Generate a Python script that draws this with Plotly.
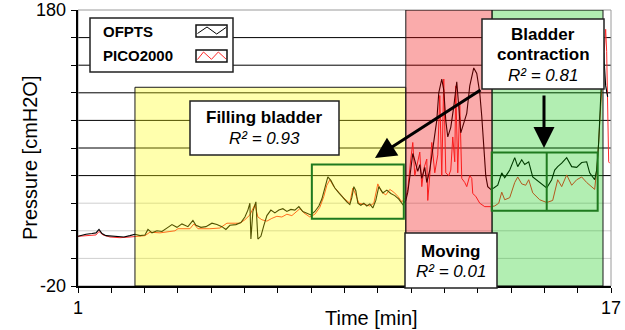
import plotly.graph_objects as go

# ---------------- data ----------------
ofpts_time = [1.00, 1.24, 1.42, 1.54, 1.63, 1.72, 1.84, 2.02, 2.20, 2.38, 2.56, 2.71, 2.86, 3.01, 3.10,
              3.22, 3.37, 3.52, 3.70, 3.82, 3.97, 4.12, 4.30, 4.45, 4.54, 4.69, 4.84, 5.02, 5.17, 5.32,
              5.44, 5.56, 5.74, 5.89, 6.01, 6.10, 6.16, 6.19, 6.25, 6.34, 6.40, 6.49, 6.58, 6.67, 6.79,
              6.91, 7.03, 7.15, 7.27, 7.39, 7.51, 7.63, 7.75, 7.87, 7.99, 8.11, 8.23, 8.32, 8.41, 8.50,
              8.59, 8.71, 8.83, 8.95, 9.07, 9.16, 9.22, 9.28, 9.34, 9.40, 9.49, 9.58, 9.67, 9.76, 9.85,
              9.94, 10.03, 10.15, 10.27, 10.39, 10.51, 10.63, 10.75, 10.84, 10.90, 10.96, 11.05, 11.11,
              11.20, 11.26, 11.32, 11.41, 11.47, 11.56, 11.62, 11.71, 11.77, 11.83, 11.92, 11.98, 12.04,
              12.10, 12.19, 12.28, 12.37, 12.43, 12.49, 12.58, 12.67, 12.76, 12.88, 12.97, 13.06, 13.12,
              13.18, 13.24, 13.30, 13.39, 13.48, 13.60, 13.72, 13.81, 13.96, 14.11, 14.20, 14.32, 14.41,
              14.53, 14.65, 14.86, 15.07, 15.22, 15.31, 15.40, 15.52, 15.67, 15.82, 15.97, 16.12, 16.27,
              16.36, 16.51, 16.57, 16.63, 16.72, 16.78, 16.84, 16.90]
ofpts_pressure = [16, 17.5, 18, 18.5, 21, 18, 16.5, 16, 15.5, 15.5, 16.5, 17.5, 16.5, 17, 21,
                  18.5, 20, 19.5, 22.5, 24.5, 22.5, 25, 23, 27.5, 24, 22.5, 23, 25.5, 24.5, 23,
                  21, 24, 24.5, 26, 30, 35, 40, 14, 34, 41, 14, 16, 24, 31, 35,
                  33, 35, 36, 34, 35.5, 35, 37.5, 34, 33, 31.5, 34, 38, 43, 52, 59,
                  56.5, 51, 47.5, 44, 41, 39, 44, 52, 49, 40, 38.5, 40, 38, 39.5, 36.5,
                  42, 52, 47.5, 49.5, 47, 45.5, 43, 39, 42, 48, 59, 76, 71,
                  63, 68, 58, 66, 55, 64, 75, 88, 100, 120, 130, 122, 100,
                  88, 95, 110, 128, 110, 91, 98, 105, 125, 138, 134, 120, 103,
                  80, 60, 52, 50, 51, 53, 62, 58.5, 64, 73, 66.5, 71.5, 68,
                  70, 59, 55, 51, 57, 64, 66.5, 69, 73, 66.5, 66, 69.5, 70,
                  62, 57, 64, 84, 132, 149, 125, 117]

pico_time = [1.00, 1.36, 1.54, 1.63, 1.75, 1.96, 2.26, 2.56, 2.71, 3.01, 3.16, 3.46, 3.76, 3.91, 4.00,
             4.36, 4.48, 4.60, 4.96, 5.26, 5.47, 5.86, 6.01, 6.16, 6.31, 6.40, 6.52, 6.67, 6.82, 6.97,
             7.12, 7.27, 7.42, 7.57, 7.66, 7.78, 7.96, 8.11, 8.26, 8.38, 8.47, 8.56, 8.68, 8.86, 9.01,
             9.16, 9.25, 9.34, 9.43, 9.61, 9.76, 9.88, 10.00, 10.12, 10.24, 10.36, 10.48, 10.60, 10.72,
             10.84, 10.90, 10.99, 11.05, 11.11, 11.17, 11.26, 11.32, 11.38, 11.47, 11.50, 11.56, 11.62,
             11.71, 11.80, 11.86, 11.92, 11.98, 12.04, 12.13, 12.19, 12.25, 12.31, 12.34, 12.40, 12.46,
             12.52, 12.61, 12.67, 12.76, 12.82, 12.85, 12.94, 13.06, 13.21, 13.39, 13.51, 13.63, 13.72,
             13.81, 13.96, 14.11, 14.20, 14.32, 14.44, 14.53, 14.65, 14.86, 15.07, 15.25, 15.40, 15.52,
             15.67, 15.82, 15.97, 16.12, 16.27, 16.51, 16.60, 16.69, 16.75, 16.81, 16.84, 16.87, 16.90,
             16.93, 16.96]
pico_pressure = [16, 16.5, 17, 19.5, 17, 15.5, 15, 15.5, 16, 16.5, 19, 18.5, 19.5, 20, 21.5,
                 21.5, 25, 21.5, 21.5, 22, 25.5, 25.5, 28, 31.5, 39, 30, 28, 27, 29, 30.5,
                 30, 32, 31, 34, 36, 33, 30, 32, 37, 45, 53, 57, 52, 47, 43,
                 40, 51, 46, 40, 39, 38, 40, 54, 48, 46, 50, 48, 45, 41,
                 44, 50, 72, 84, 60, 66, 77, 52, 65, 72, 42, 60, 84,
                 62, 75, 118, 60, 130, 62, 60, 64, 88, 70, 125, 62, 113,
                 58, 55, 52, 60, 58, 47, 45, 40, 37.5, 37.5, 38, 40, 48,
                 42.5, 44, 55, 59, 54, 53, 57, 47.5, 42.5, 40.5, 42, 57, 52,
                 60.5, 53, 57, 59, 55, 50, 72, 110, 132, 160, 166, 150, 120,
                 70, 69]

x_tick_vals = list(range(1, 18))
x_label_vals = [1, 17]
y_tick_vals = list(range(-20, 181, 20))
y_label_vals = [-20, 180]
gray_grid_levels = [0, 20, 40]
black_grid_levels = [60, 80, 100, 120, 140, 160]

phase_names = ["Filling bladder", "Moving", "Bladder contraction"]
phase_r2 = ["0.93", "0.01", "0.81"]
phase_start = [2.71, 10.84, 13.43]
phase_end = [10.84, 13.43, 16.76]
phase_top = [124, 180, 180]

filling_window_t = [8.02, 10.78]
filling_window_p = [28.7, 68]
contraction_window_t = [13.42, 15.07, 16.6]
contraction_window_p = [34.5, 76.7]

# ---------------- helpers (pixel -> paper) ----------------
L, T, PW, PH = 78, 10, 533, 276


def px(x):
    return (x - L) / PW


def py(y):
    return (T + PH - y) / PH


FONT = "Liberation Sans, Arial, Helvetica, sans-serif"

fig = go.Figure()
fig.add_trace(go.Scatter(x=pico_time, y=pico_pressure, mode="lines", name="PICO2000",
                         line=dict(color="#ff2a2a", width=1), showlegend=False))
fig.add_trace(go.Scatter(x=ofpts_time, y=ofpts_pressure, mode="lines", name="OFPTS",
                         line=dict(color="#000000", width=1.1), showlegend=False))

shapes = []
# gridlines
for v in gray_grid_levels:
    shapes.append(dict(type="line", xref="paper", yref="y", x0=0, x1=1, y0=v, y1=v,
                       line=dict(color="#cfcfcf", width=1), layer="below"))
for v in black_grid_levels:
    shapes.append(dict(type="line", xref="paper", yref="y", x0=0, x1=1, y0=v, y1=v,
                       line=dict(color="#000000", width=1), layer="below"))
# frame
shapes.append(dict(type="rect", xref="paper", yref="paper", x0=0, x1=1, y0=0, y1=1,
                   line=dict(color="#9a9a9a", width=1), layer="below"))

# phase regions (semi-transparent, above data)
phase_fill = ["rgba(255,255,0,0.32)", "rgba(240,0,0,0.33)", "rgba(0,200,0,0.30)"]
for s, e, top, fc in zip(phase_start, phase_end, phase_top, phase_fill):
    shapes.append(dict(type="rect", xref="x", yref="y", x0=s, x1=e, y0=-20, y1=top,
                       fillcolor=fc, line=dict(color="#1a1a1a", width=1), layer="above"))

# focus windows
GREEN = "#1f7a1f"
shapes.append(dict(type="rect", xref="x", yref="y", x0=filling_window_t[0], x1=filling_window_t[1],
                   y0=filling_window_p[0], y1=filling_window_p[1],
                   line=dict(color=GREEN, width=2), layer="above"))
shapes.append(dict(type="rect", xref="x", yref="y", x0=contraction_window_t[0], x1=contraction_window_t[2],
                   y0=contraction_window_p[0], y1=contraction_window_p[1],
                   line=dict(color=GREEN, width=2), layer="above"))
shapes.append(dict(type="line", xref="x", yref="y", x0=contraction_window_t[1], x1=contraction_window_t[1],
                   y0=contraction_window_p[0], y1=contraction_window_p[1],
                   line=dict(color=GREEN, width=2), layer="above"))

# label boxes
label_boxes = [(190, 101, 339, 155), (405, 233, 497, 288), (482, 19, 604, 89)]
for x0, y0, x1, y1 in label_boxes:
    shapes.append(dict(type="rect", xref="paper", yref="paper", x0=px(x0), x1=px(x1), y0=py(y1), y1=py(y0),
                       fillcolor="white", line=dict(color="#222222", width=1.5), layer="above"))

# custom legend
shapes.append(dict(type="rect", xref="paper", yref="paper", x0=px(90), x1=px(233), y0=py(72), y1=py(18),
                   fillcolor="white", line=dict(color="#222222", width=1.5), layer="above"))
for yt, yb in [(25, 37), (50, 62)]:
    shapes.append(dict(type="rect", xref="paper", yref="paper", x0=px(196), x1=px(227), y0=py(yb), y1=py(yt),
                       fillcolor="white", line=dict(color="#111111", width=1.5), layer="above"))


def zig(points):
    return "M " + " L ".join(f"{px(a):.5f},{py(b):.5f}" for a, b in points)


shapes.append(dict(type="path", xref="paper", yref="paper",
                   path=zig([(197.5, 33.5), (207, 27), (216.7, 34), (226, 27.5)]),
                   line=dict(color="#000000", width=1), layer="above"))
shapes.append(dict(type="path", xref="paper", yref="paper",
                   path=zig([(197.5, 59.5), (203.5, 52), (211.5, 59.3), (218.3, 52), (226, 59)]),
                   line=dict(color="#ff2a2a", width=1), layer="above"))

annotations = []


def text(x, y, s, size=17, xanchor="center"):
    annotations.append(dict(xref="paper", yref="paper", x=px(x), y=py(y), text=s, showarrow=False,
                            xanchor=xanchor, yanchor="middle",
                            font=dict(family=FONT, size=size, color="#000000")))


# legend text
text(101, 31, "<b>OFPTS</b>", 15, "left")
text(101, 56, "<b>PICO2000</b>", 15, "left")

# labels
text(264.5, 118, f"<b>{phase_names[0]}</b>")
text(264.5, 138, f"<i>R² = {phase_r2[0]}</i>")
text(451, 251, f"<b>{phase_names[1]}</b>")
text(451, 271, f"<i>R² = {phase_r2[1]}</i>")
text(543, 35, "<b>Bladder</b>")
text(543, 55, "<b>contraction</b>")
text(543, 75, f"<i>R² = {phase_r2[2]}</i>")

# end tick labels (placed on the axes' own scales)
for xv in x_label_vals:
    annotations.append(dict(xref="x", yref="paper", x=xv, y=py(308), text=str(xv), showarrow=False,
                            xanchor="center", yanchor="middle",
                            font=dict(family=FONT, size=18, color="#000000")))
for yv in y_label_vals:
    annotations.append(dict(xref="paper", yref="y", x=px(68), y=yv, text=str(yv), showarrow=False,
                            xanchor="right", yanchor="middle",
                            font=dict(family=FONT, size=18, color="#000000")))

# arrows
annotations.append(dict(xref="paper", yref="paper", x=px(375), y=py(158), ax=107, ay=-69,
                        axref="pixel", ayref="pixel", text="", showarrow=True,
                        arrowhead=2, arrowsize=1.4, arrowwidth=3, arrowcolor="#000000"))
annotations.append(dict(xref="paper", yref="paper", x=px(544), y=py(148), ax=0, ay=-54,
                        axref="pixel", ayref="pixel", text="", showarrow=True,
                        arrowhead=2, arrowsize=1.4, arrowwidth=3, arrowcolor="#000000"))

# axis titles
annotations.append(dict(xref="paper", yref="paper", x=px(30), y=py(158), text="Pressure [cmH2O]",
                        textangle=-90, showarrow=False, xanchor="center", yanchor="middle",
                        font=dict(family=FONT, size=20, color="#000000")))
annotations.append(dict(xref="paper", yref="paper", x=px(371), y=py(318), text="Time [min]",
                        showarrow=False, xanchor="center", yanchor="middle",
                        font=dict(family=FONT, size=20, color="#000000")))

fig.update_layout(
    width=625, height=330,
    margin=dict(l=L, r=625 - L - PW, t=T, b=330 - T - PH, autoexpand=False),
    paper_bgcolor="white", plot_bgcolor="white",
    font=dict(family=FONT, color="#000000"),
    showlegend=False,
    hovermode=False,
    shapes=shapes,
    annotations=annotations,
    xaxis=dict(range=[1, 17], tickvals=x_tick_vals, showticklabels=False, ticks="outside",
               ticklen=5, tickcolor="#000000", tickwidth=1, showgrid=False, zeroline=False,
               showline=True, linecolor="#000000", linewidth=1.5, automargin=False),
    yaxis=dict(range=[-20, 180], tickvals=y_tick_vals, showticklabels=False, ticks="outside",
               ticklen=5, tickcolor="#000000", tickwidth=1, showgrid=False, zeroline=False,
               showline=True, linecolor="#000000", linewidth=1.5, automargin=False),
)

fig.write_html("out.html", config={"displayModeBar": False},
               post_script="document.body.style.margin='0';document.body.style.padding='0';")
